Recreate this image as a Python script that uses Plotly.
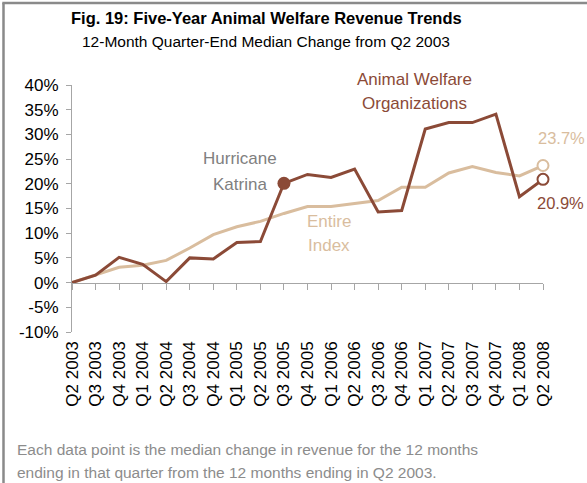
import plotly.graph_objects as go

quarters = ["Q2 2003", "Q3 2003", "Q4 2003", "Q1 2004", "Q2 2004", "Q3 2004", "Q4 2004",
            "Q1 2005", "Q2 2005", "Q3 2005", "Q4 2005", "Q1 2006", "Q2 2006", "Q3 2006",
            "Q4 2006", "Q1 2007", "Q2 2007", "Q3 2007", "Q4 2007", "Q1 2008", "Q2 2008"]
animal_welfare = [0.0, 1.5, 5.1, 3.7, 0.2, 5.0, 4.8, 8.1, 8.3, 20.1, 21.9, 21.3, 23.0,
                  14.3, 14.6, 31.1, 32.4, 32.4, 34.1, 17.4, 20.9]
entire_index = [0.0, 1.5, 3.1, 3.5, 4.5, 7.0, 9.7, 11.3, 12.4, 14.0, 15.4, 15.4, 16.0,
                16.6, 19.3, 19.3, 22.2, 23.5, 22.3, 21.6, 23.7]
y_ticks = [-10, -5, 0, 5, 10, 15, 20, 25, 30, 35, 40]
y_tick_labels = ["-10%", "-5%", "0%", "5%", "10%", "15%", "20%", "25%", "30%", "35%", "40%"]
katrina_quarter = "Q3 2005"

BROWN = "#8B4A37"
TAN = "#D9BD9E"
GRAY_TXT = "#808080"
AXIS = "#A6A6A6"
FONT = "Liberation Sans, Arial, sans-serif"

W, H = 587, 483
L, R, T, B = 72, 44, 85, 151
PW, PH = W - L - R, H - T - B


def fx(p):
    return (p - L) / PW


def fy(p):
    return (H - B - p) / PH


fig = go.Figure()
fig.add_trace(go.Scatter(x=quarters, y=entire_index, mode="lines",
                         line=dict(color=TAN, width=3), hoverinfo="skip",
                         showlegend=False, cliponaxis=False))
fig.add_trace(go.Scatter(x=quarters, y=animal_welfare, mode="lines",
                         line=dict(color=BROWN, width=3), hoverinfo="skip",
                         showlegend=False, cliponaxis=False))
ki = quarters.index(katrina_quarter)
fig.add_trace(go.Scatter(x=[quarters[ki]], y=[animal_welfare[ki]], mode="markers",
                         marker=dict(color=BROWN, size=13), showlegend=False,
                         hoverinfo="skip", cliponaxis=False))
fig.add_trace(go.Scatter(x=[quarters[-1]], y=[entire_index[-1]], mode="markers",
                         marker=dict(color="white", size=11, line=dict(color=TAN, width=2)),
                         showlegend=False, hoverinfo="skip", cliponaxis=False))
fig.add_trace(go.Scatter(x=[quarters[-1]], y=[animal_welfare[-1]], mode="markers",
                         marker=dict(color="white", size=11, line=dict(color=BROWN, width=2)),
                         showlegend=False, hoverinfo="skip", cliponaxis=False))
# invisible trace carrying the zero-line axis
fig.add_trace(go.Scatter(x=quarters, y=entire_index, xaxis="x2", mode="lines",
                         line=dict(width=0), opacity=0, showlegend=False, hoverinfo="skip"))

fig.update_layout(
    width=W, height=H, margin=dict(l=L, r=R, t=T, b=B),
    paper_bgcolor="white", plot_bgcolor="white",
    font=dict(family=FONT, size=16, color="black"),
    xaxis=dict(type="category", range=[0, len(quarters) - 1], tickmode="array",
               tickvals=quarters, ticktext=quarters, tickangle=-90, showgrid=False,
               zeroline=False, showline=False, ticks="", ticklabelstandoff=5,
               tickfont=dict(size=17, color="black")),
    xaxis2=dict(type="category", range=[0, len(quarters) - 1], overlaying="x",
                anchor="free", position=0.2, side="bottom", showgrid=False,
                zeroline=False, showline=True, linecolor=AXIS, linewidth=1,
                ticks="outside", ticklen=6, tickcolor=AXIS, tickwidth=1,
                showticklabels=False, tickmode="array", tickvals=quarters),
    yaxis=dict(range=[-10, 40], tickmode="array", tickvals=y_ticks, ticktext=y_tick_labels,
               showgrid=False, zeroline=False, showline=True, linecolor=AXIS, linewidth=1,
               ticks="outside", ticklen=5, tickcolor=AXIS, ticklabelstandoff=4,
               tickfont=dict(size=17, color="black")),
)

ann = []


def text(t, x, y, color, size=17, bold=False, xanchor="center"):
    if bold:
        t = "<b>" + t + "</b>"
    ann.append(dict(text=t, x=fx(x), y=fy(y), xref="paper", yref="paper",
                    xanchor=xanchor, yanchor="middle", showarrow=False,
                    font=dict(family=FONT, size=size, color=color)))


text("Fig. 19: Five-Year Animal Welfare Revenue Trends", 266, 18, "black", 16.5, True)
text("12-Month Quarter-End Median Change from Q2 2003", 266, 41, "black", 15.5)
text("Hurricane", 240, 158, GRAY_TXT)
text("Katrina", 240, 184, GRAY_TXT)
text("Animal Welfare", 414, 80, BROWN)
text("Organizations", 414, 104, BROWN)
text("Entire", 329, 221, TAN)
text("Index", 329, 245, TAN)
text("23.7%", 536, 138, TAN, size=16.5, xanchor="left")
text("20.9%", 535, 203, BROWN, size=16.5, xanchor="left")
text("Each data point is the median change in revenue for the 12 months", 15, 449,
     "#8C8C8C", 15.5, xanchor="left")
text("ending in that quarter from the 12 months ending in Q2 2003.", 15, 472,
     "#8C8C8C", 15.5, xanchor="left")
fig.update_layout(annotations=ann)

fig.add_shape(type="line", xref="paper", yref="paper", x0=fx(3.5), x1=fx(3.5),
              y0=fy(3), y1=fy(H + 5), line=dict(color="#8A8A8A", width=2.5))
fig.add_shape(type="line", xref="paper", yref="paper", x0=fx(2.3), x1=fx(W + 5),
              y0=fy(3), y1=fy(3), line=dict(color="#8A8A8A", width=2.5))

fig.write_html("out.html", config={"displayModeBar": False},
               post_script="document.body.style.margin='0';document.body.style.overflow='hidden';")
